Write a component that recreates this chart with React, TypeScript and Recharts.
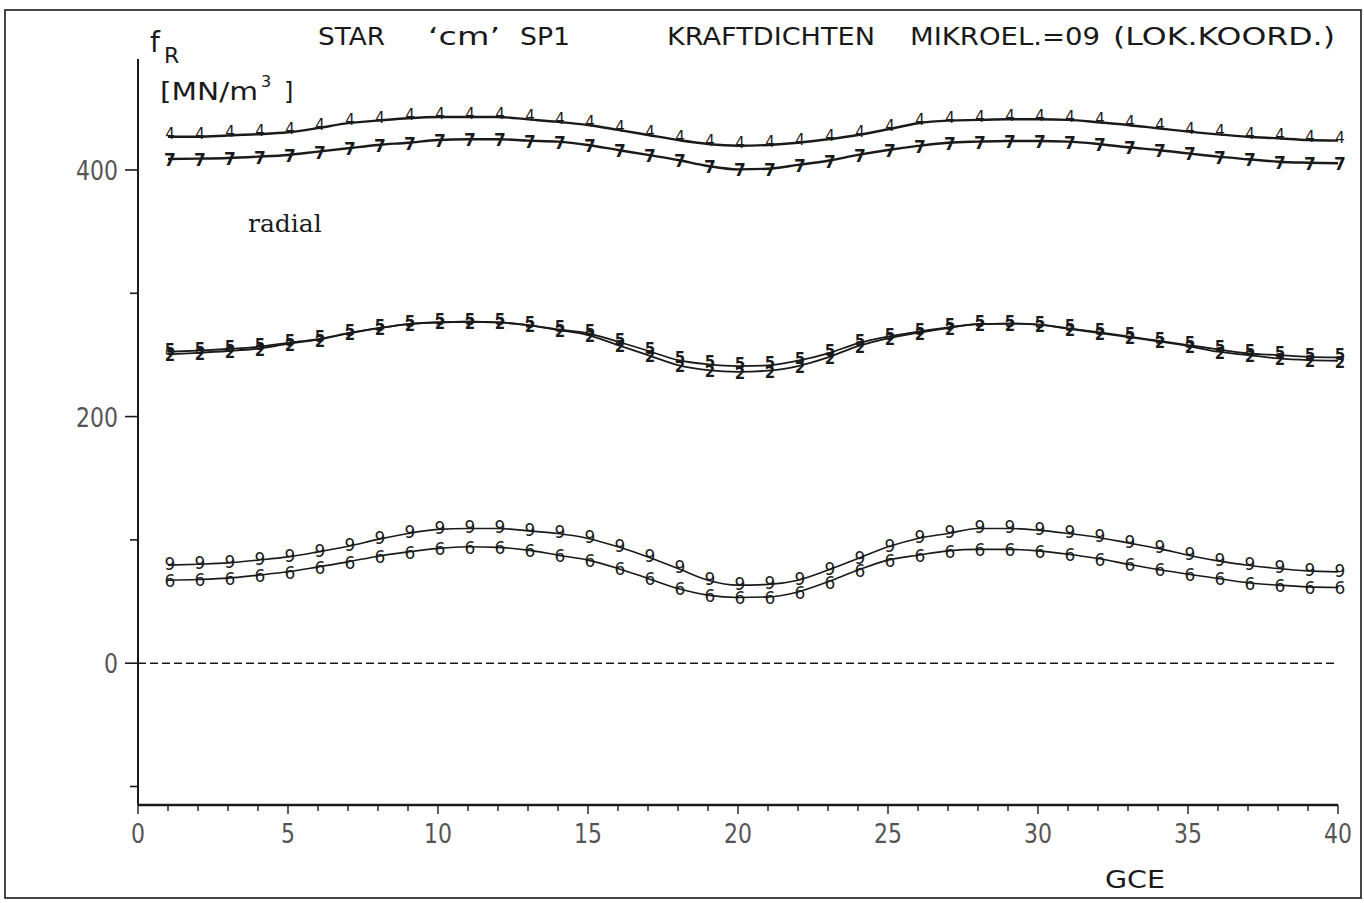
import React from "react";
import { LineChart, Line, XAxis, YAxis, ReferenceLine } from "recharts";

// GCE index 1..40
const gce = [1, 2, 3, 4, 5, 6, 7, 8, 9, 10, 11, 12, 13, 14, 15, 16, 17, 18, 19, 20,
  21, 22, 23, 24, 25, 26, 27, 28, 29, 30, 31, 32, 33, 34, 35, 36, 37, 38, 39, 40];

const s4 = [427, 427, 428, 429, 430.6, 434, 438, 440, 442, 443, 443, 443, 441,
  439, 436.5, 432.5, 428.4, 424.3, 421.1, 419.7, 420.3, 422.1, 424.9, 428.4, 433, 437.9, 440,
  440.6, 441.1, 441.1, 440.6, 438.7, 436.5, 433.8, 431.1, 428.9, 427, 425.7, 424.3, 423.8];

const s7 = [408.9, 409.2, 409.7, 410.8, 412.2, 414.9, 417.6, 420.3, 422.1, 424.3, 424.9, 424.9, 423.8,
  423, 420.3, 416.2, 412.2, 408.1, 403.2, 400.5, 401, 404.1, 407.5, 412.2, 416.2, 419.5, 422.1,
  423, 423.5, 423.5, 423, 421.1, 418.4, 416.2, 413.5, 410.8, 408.7, 406.7, 405.9, 405.4];

const s5 = [252.6, 253.5, 254.8, 256.5, 259.8, 262.8, 267.6, 271.7, 275, 276.4, 276.9, 276.4, 274.2,
  270.7, 267.5, 260.7, 253.4, 245.8, 242.4, 241, 241.5, 245.3, 251.3, 259.4, 264.8, 268.8, 272.4,
  275, 275.4, 274.6, 271.5, 268.4, 265, 261.5, 258, 254.5, 251.3, 249.9, 248.5, 248];

const s2 = [250.5, 251.7, 253.2, 255.2, 259, 262.4, 267.4, 271.5, 275, 276.4, 276.9, 276.4, 274.2,
  270.2, 266.1, 258, 249.9, 241.8, 237.7, 236.3, 237.2, 241, 248, 257.2, 263.5, 268, 271.8,
  275, 275.4, 274.6, 271.3, 268, 264.5, 261, 257.2, 252.6, 249.9, 247.2, 245.8, 245.3];

const s9 = [79.5, 80.3, 81.4, 83.6, 86.2, 90.3, 94.9, 100.4, 105.2, 108.5, 109.3, 109.3, 107.3,
  105.2, 101.2, 94.4, 86.2, 76.8, 67.3, 63.3, 63.9, 67.3, 75.5, 84.9, 94.4, 101.2, 105.2,
  109.3, 109.3, 107.9, 105.2, 102, 97.6, 93.1, 87.6, 83, 79.5, 76.8, 74.9, 74.1];

const s6 = [67.3, 67.9, 69, 71.4, 74.1, 78.1, 82.2, 86.8, 90.3, 93.1, 94.4, 93.9, 91.7,
  87.6, 83.6, 76.8, 68.7, 60.6, 55.2, 53.3, 53.8, 57.8, 66, 75.5, 83.6, 87.6, 91.1,
  92.3, 92.3, 91.1, 88.4, 84.9, 80.3, 76, 72.2, 68.7, 65.2, 63.3, 61.9, 61.4];

const xTicks = [0, 1, 2, 3, 4, 5, 6, 7, 8, 9, 10, 11, 12, 13, 14, 15, 16, 17, 18, 19, 20,
  21, 22, 23, 24, 25, 26, 27, 28, 29, 30, 31, 32, 33, 34, 35, 36, 37, 38, 39, 40];
const yTicks = [-100, 0, 100, 200, 300, 400];

const data = gce.map((g, i) => ({
  gce: g, s4: s4[i], s7: s7[i], s5: s5[i], s2: s2[i], s9: s9[i], s6: s6[i],
}));

const INK = "#1a1a1a";
const plotFont = "'DejaVu Sans', sans-serif";

const marker = (ch: string, size = 15, weight = "normal", dy = 0) => (props: any) => {
  const { cx, cy, index } = props;
  if (cx == null || cy == null) return null;
  return (
    <text key={ch + index} x={cx + 2} y={cy + dy} textAnchor="middle" dominantBaseline="central"
      fontFamily={plotFont} fontSize={size} fontWeight={weight} fill={INK}>{ch}</text>
  );
};

const XTick = (props: any) => {
  const { x, y, payload } = props;
  const v = payload.value;
  const major = v % 5 === 0;
  const label = String(v);
  return (
    <g>
      <line x1={x} x2={x} y1={y} y2={y + (major ? 9 : 6)} stroke={INK} strokeWidth={1.4} />
      {major && (
        <text x={x} y={y + 38} textAnchor="middle" fontFamily={plotFont} fontSize={27}
          fill="#555"
          textLength={label.length * 14} lengthAdjust="spacingAndGlyphs">{label}</text>
      )}
    </g>
  );
};

const YTick = (props: any) => {
  const { x, y, payload } = props;
  const v = payload.value;
  const major = v % 200 === 0;
  const label = String(v);
  return (
    <g>
      <line x1={x} x2={x - (major ? 13 : 8)} y1={y} y2={y} stroke={INK} strokeWidth={1.6} />
      {major && (
        <text x={x - 20} y={y + 10} textAnchor="end" fontFamily={plotFont} fontSize={27}
          fill="#555"
          textLength={label.length * 14} lengthAdjust="spacingAndGlyphs">{label}</text>
      )}
    </g>
  );
};

export default function App() {
  return (
    <div style={{ position: "absolute", left: 0, top: 0, width: 1364, height: 903, background: "#fff", overflow: "hidden" }}>
      <LineChart width={1364} height={903} data={data}
        margin={{ top: 59, right: 26, left: 78, bottom: 58 }}>
        <XAxis dataKey="gce" type="number" domain={[0, 40]} ticks={xTicks} interval={0}
          tick={<XTick />} tickSize={0} tickMargin={0} height={40}
          axisLine={{ stroke: INK, strokeWidth: 2.6 }} tickLine={false} />
        <YAxis type="number" domain={[-115, 490]} ticks={yTicks} interval={0}
          tick={<YTick />} tickSize={0} tickMargin={0} width={60}
          axisLine={{ stroke: INK, strokeWidth: 2 }} tickLine={false} />
        <ReferenceLine y={0} stroke={INK} strokeWidth={1.6} strokeDasharray="8 4" />
        <Line dataKey="s4" type="monotone" stroke={INK} strokeWidth={2.4} dot={marker("4", 15, "normal", -3)} isAnimationActive={false} />
        <Line dataKey="s7" type="monotone" stroke={INK} strokeWidth={2.4} dot={marker("7", 17, "bold", 1)} isAnimationActive={false} />
        <Line dataKey="s5" type="monotone" stroke={INK} strokeWidth={1.8} dot={marker("5", 15, "bold", -2)} isAnimationActive={false} />
        <Line dataKey="s2" type="monotone" stroke={INK} strokeWidth={1.8} dot={marker("2", 15, "bold", 2)} isAnimationActive={false} />
        <Line dataKey="s9" type="monotone" stroke={INK} strokeWidth={1.6} dot={marker("9", 17, "normal", -1)} isAnimationActive={false} />
        <Line dataKey="s6" type="monotone" stroke={INK} strokeWidth={1.6} dot={marker("6", 17, "normal", 1)} isAnimationActive={false} />
      </LineChart>
      <svg width={1364} height={903} style={{ position: "absolute", left: 0, top: 0, pointerEvents: "none" }}>
        <rect x={5} y={10} width={1356} height={888} fill="none" stroke={INK} strokeWidth={1.6} />
        <g fontFamily={plotFont} fontSize={24} fill={INK}>
          <text x={318} y={45} textLength={67} lengthAdjust="spacingAndGlyphs">STAR</text>
          <text x={428} y={45} textLength={72} lengthAdjust="spacingAndGlyphs">‘cm’</text>
          <text x={520} y={45} textLength={50} lengthAdjust="spacingAndGlyphs">SP1</text>
          <text x={667} y={45} textLength={208} lengthAdjust="spacingAndGlyphs">KRAFTDICHTEN</text>
          <text x={910} y={45} textLength={190} lengthAdjust="spacingAndGlyphs">MIKROEL.=09</text>
          <text x={1113} y={45} textLength={222} lengthAdjust="spacingAndGlyphs">(LOK.KOORD.)</text>
          <text x={150} y={52} fontSize={28}>f</text>
          <text x={164} y={63} fontSize={22}>R</text>
          <text x={160} y={100} textLength={98} lengthAdjust="spacingAndGlyphs">[MN/m</text>
          <text x={261} y={87} fontSize={16}>3</text>
          <text x={284} y={100}>]</text>
          <text x={1105} y={888} textLength={60} lengthAdjust="spacingAndGlyphs">GCE</text>
        </g>
        <text x={248} y={232} fontFamily="'DejaVu Serif', serif" fontSize={25} fill={INK}>radial</text>
      </svg>
    </div>
  );
}
